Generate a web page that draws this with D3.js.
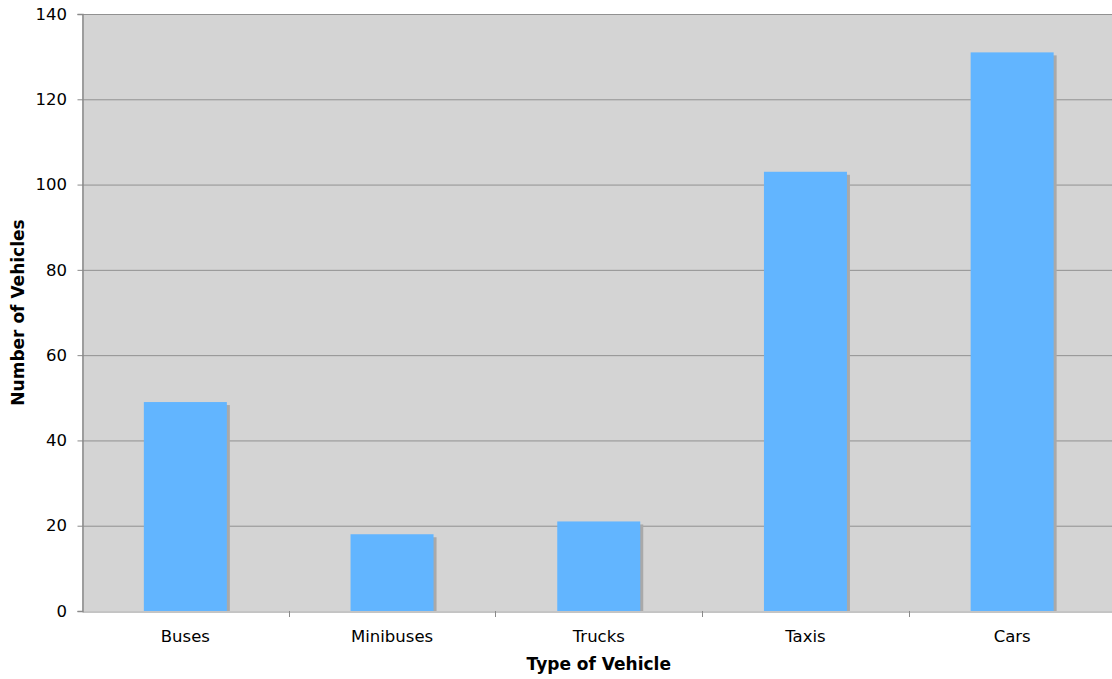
<!DOCTYPE html>
<html>
<head>
<meta charset="utf-8">
<script src="https://cdn.jsdelivr.net/npm/d3@7"></script>
<style>
  html, body { margin: 0; padding: 0; background: #ffffff; overflow: hidden; }
  svg { display: block; font-family: "DejaVu Sans", Verdana, sans-serif; }
</style>
</head>
<body>
<svg id="chart" width="1112" height="679"></svg>
<script>
// Vehicle counts by type
const categories = ["Buses", "Minibuses", "Trucks", "Taxis", "Cars"];
const counts = [49, 18, 21, 103, 131];
const yTicks = [0, 20, 40, 60, 80, 100, 120, 140];

const svg = d3.select("#chart");
const margin = { left: 82, top: 14, right: -3.5, bottom: 68 };
const W = 1112, H = 679;
const x0 = margin.left, x1 = W - margin.right;
const yTop = margin.top, yBot = H - margin.bottom;

const x = d3.scaleBand().domain(categories).range([x0, x1]).paddingInner(0).paddingOuter(0);
const y = d3.scaleLinear().domain([0, 140]).range([yBot, yTop]);
const barW = 83;

// plot background
svg.append("rect")
  .attr("x", x0).attr("y", yTop)
  .attr("width", x1 - x0).attr("height", yBot - yTop)
  .attr("fill", "#d4d4d4");

// horizontal gridlines
svg.append("g").selectAll("line").data(yTicks.filter(d => d > 0)).join("line")
  .attr("x1", x0).attr("x2", x1)
  .attr("y1", d => y(d) + 0.5).attr("y2", d => y(d) + 0.5)
  .attr("stroke", "#919191").attr("stroke-width", 1);

// bar shadows
svg.append("g").selectAll("rect").data(counts).join("rect")
  .attr("x", (d, i) => x(categories[i]) + (x.bandwidth() - barW) / 2 + 3)
  .attr("y", d => y(d) + 3)
  .attr("width", barW)
  .attr("height", d => yBot - y(d) - 3)
  .attr("fill", "#a9a9a9");

// bars
svg.append("g").selectAll("rect").data(counts).join("rect")
  .attr("x", (d, i) => x(categories[i]) + (x.bandwidth() - barW) / 2)
  .attr("y", d => y(d))
  .attr("width", barW)
  .attr("height", d => yBot - y(d))
  .attr("fill", "#62b5ff");

// y axis
const yAxis = d3.axisLeft(y).tickValues(yTicks).tickSize(5).tickPadding(10.5);
const gy = svg.append("g").attr("transform", `translate(${x0 + 0.5},0)`).call(yAxis);
gy.select(".domain").attr("stroke", "#8a8a8a").attr("stroke-width", 1.5);
gy.selectAll(".tick line").attr("stroke", "#8a8a8a");
gy.selectAll(".tick text").attr("font-size", 16.5).attr("fill", "#000")
  .attr("font-family", "DejaVu Sans, Verdana, sans-serif");

// x axis with ticks on category boundaries
const xAxis = d3.axisBottom(x).tickSize(0).tickPadding(19);
const gx = svg.append("g").attr("transform", `translate(0,${yBot + 0.5})`).call(xAxis);
gx.select(".domain").attr("stroke", "#8a8a8a").attr("stroke-width", 1);
gx.selectAll(".tick text").attr("font-size", 16.5).attr("fill", "#000")
  .attr("font-family", "DejaVu Sans, Verdana, sans-serif");
svg.append("g").selectAll("line").data(categories.slice(1)).join("line")
  .attr("x1", d => Math.round(x(d)) + 0.5).attr("x2", d => Math.round(x(d)) + 0.5)
  .attr("y1", yBot).attr("y2", yBot + 6)
  .attr("stroke", "#8a8a8a");

// axis titles
svg.append("text")
  .attr("x", (x0 + x1) / 2).attr("y", 670)
  .attr("text-anchor", "middle")
  .attr("font-size", 17).attr("font-weight", "bold")
  .text("Type of Vehicle");

svg.append("text")
  .attr("transform", `translate(24,${(yTop + yBot) / 2}) rotate(-90)`)
  .attr("text-anchor", "middle")
  .attr("font-size", 17).attr("font-weight", "bold")
  .text("Number of Vehicles");
</script>
</body>
</html>
